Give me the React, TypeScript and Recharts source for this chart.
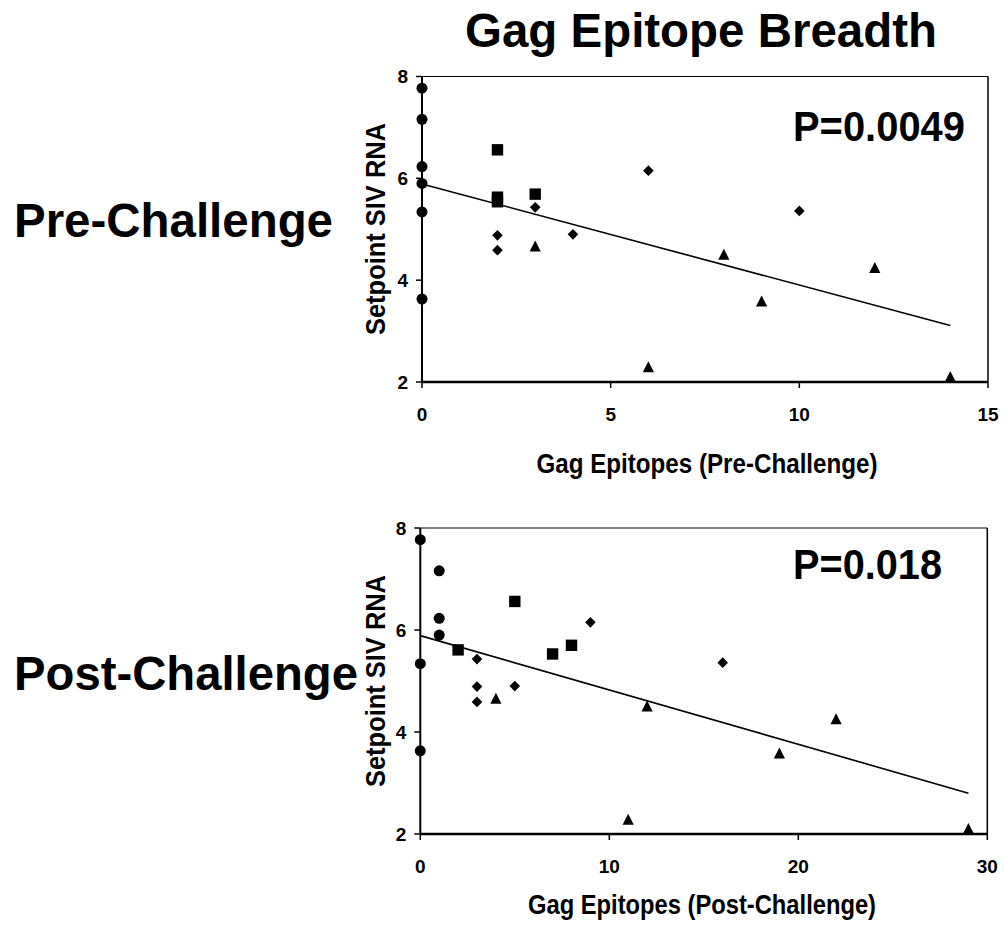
import React from 'react';
import { ScatterChart, Scatter, XAxis, YAxis, ReferenceLine } from 'recharts';

// Setpoint SIV RNA per animal, grouped by vaccine arm (same animals in both panels)
const circleRna = [7.77, 7.16, 6.23, 5.9, 5.34, 3.63];
const squareRna = [6.56, 5.63, 5.54, 5.69];
const diamondRna = [4.88, 4.59, 5.43, 4.9, 6.15, 5.36];
const triangleRna = [4.66, 2.29, 4.5, 3.58, 4.24, 2.1];

// Gag epitopes, pre-challenge
const circlePre = [0, 0, 0, 0, 0, 0];
const squarePre = [2, 2, 2, 3];
const diamondPre = [2, 2, 3, 4, 6, 10];
const trianglePre = [3, 6, 8, 9, 12, 14];

// Gag epitopes, post-challenge
const circlePost = [0, 1, 1, 1, 0, 0];
const squarePost = [5, 2, 7, 8];
const diamondPost = [3, 3, 3, 5, 16, 9];
const trianglePost = [4, 11, 12, 19, 22, 29];
const diamondRnaPost = [5.43, 4.89, 4.59, 4.9, 5.36, 6.15];
const squareRnaPost = [6.56, 5.61, 5.53, 5.7];

// regression line end points
const fitPre = [{ x: 0, y: 5.89 }, { x: 14, y: 3.11 }];
const fitPost = [{ x: 0, y: 5.89 }, { x: 29, y: 2.8 }];

const yTicks = [2, 4, 6, 8];
const xTicksPre = [0, 5, 10, 15];
const xTicksPost = [0, 10, 20, 30];

const pts = (xs: number[], ys: number[]) => xs.map((x, i) => ({ x, y: ys[i] }));

const FONT = '"Liberation Sans", Arial, sans-serif';

const Dot = (p: any) => <circle cx={p.cx} cy={p.cy} r={5.5} fill="#000" />;
const Square = (p: any) => <rect x={p.cx - 5.7} y={p.cy - 5.7} width={11.4} height={11.4} fill="#000" />;
const Diamond = (p: any) => (
  <polygon points={`${p.cx},${p.cy - 5.4} ${p.cx + 5.3},${p.cy} ${p.cx},${p.cy + 5.4} ${p.cx - 5.3},${p.cy}`} fill="#000" />
);
const Triangle = (p: any) => (
  <polygon points={`${p.cx},${p.cy - 6} ${p.cx + 5.6},${p.cy + 5} ${p.cx - 5.6},${p.cy + 5}`} fill="#000" />
);

const tickStyle = { fontSize: 19, fontWeight: 'bold', fill: '#000', fontFamily: FONT };

interface PanelProps {
  top: number;
  height: number;
  margin: { top: number; right: number; bottom: number; left: number };
  xMax: number;
  xTicks: number[];
  series: { x: number; y: number }[][];
  fit: { x: number; y: number }[];
}

const Panel: React.FC<PanelProps> = ({ top, height, margin, xMax, xTicks, series, fit }) => (
  <div style={{ position: 'absolute', left: 0, top }}>
    <ScatterChart width={1004} height={height} margin={margin}>
      <XAxis
        type="number"
        dataKey="x"
        domain={[0, xMax]}
        ticks={xTicks}
        interval={0}
        height={30}
        tickSize={6}
        tickMargin={20}
        tick={tickStyle}
        axisLine={{ stroke: '#000', strokeWidth: 2.5 }}
        tickLine={{ stroke: '#000', strokeWidth: 1.5 }}
      />
      <YAxis
        type="number"
        dataKey="y"
        domain={[2, 8]}
        ticks={yTicks}
        interval={0}
        width={60}
        tickSize={6}
        tickMargin={8}
        tick={tickStyle}
        axisLine={{ stroke: '#000', strokeWidth: 2 }}
        tickLine={{ stroke: '#000', strokeWidth: 1.5 }}
      />
      <ReferenceLine y={8} stroke="#000" strokeWidth={1.2} />
      <ReferenceLine x={xMax} stroke="#000" strokeWidth={1.5} />
      <ReferenceLine segment={fit} stroke="#000" strokeWidth={1.6} />
      <Scatter data={series[0]} shape={Dot} isAnimationActive={false} />
      <Scatter data={series[1]} shape={Square} isAnimationActive={false} />
      <Scatter data={series[2]} shape={Diamond} isAnimationActive={false} />
      <Scatter data={series[3]} shape={Triangle} isAnimationActive={false} />
    </ScatterChart>
  </div>
);

export default function App() {
  return (
    <div style={{ position: 'absolute', left: 0, top: 0, width: 1004, height: 926, background: '#fff', fontFamily: FONT }}>
      <Panel
        top={0}
        height={480}
        margin={{ top: 76.5, right: 16, bottom: 68, left: 362 }}
        xMax={15}
        xTicks={xTicksPre}
        series={[
          pts(circlePre, circleRna),
          pts(squarePre, squareRna),
          pts(diamondPre, diamondRna),
          pts(trianglePre, triangleRna),
        ]}
        fit={fitPre}
      />
      <Panel
        top={450}
        height={476}
        margin={{ top: 78, right: 16.7, bottom: 62, left: 360.3 }}
        xMax={30}
        xTicks={xTicksPost}
        series={[
          pts(circlePost, circleRna),
          pts(squarePost, squareRnaPost),
          pts(diamondPost, diamondRnaPost),
          pts(trianglePost, [4.65, 2.28, 4.5, 3.58, 4.25, 2.1]),
        ]}
        fit={fitPost}
      />

      {/* titles and axis captions */}
      <svg width={1004} height={926} style={{ position: 'absolute', left: 0, top: 0, pointerEvents: 'none' }}>
        <g fontFamily={FONT} fontWeight="bold" fill="#000">
          <text x={701} y={47} fontSize={48} textAnchor="middle" textLength={472} lengthAdjust="spacingAndGlyphs">
            Gag Epitope Breadth
          </text>
          <text x={14} y={237} fontSize={48} textLength={319} lengthAdjust="spacingAndGlyphs">Pre-Challenge</text>
          <text x={14} y={690} fontSize={48} textLength={344} lengthAdjust="spacingAndGlyphs">Post-Challenge</text>

          <text x={385} y={229} fontSize={28} textAnchor="middle" transform="rotate(-90 385 229)" textLength={212} lengthAdjust="spacingAndGlyphs">
            Setpoint SIV RNA
          </text>
          <text x={385} y={681} fontSize={28} textAnchor="middle" transform="rotate(-90 385 681)" textLength={212} lengthAdjust="spacingAndGlyphs">
            Setpoint SIV RNA
          </text>

          <text x={707} y={473} fontSize={28} textAnchor="middle" textLength={341} lengthAdjust="spacingAndGlyphs">
            Gag Epitopes (Pre-Challenge)
          </text>
          <text x={702} y={914} fontSize={28} textAnchor="middle" textLength={348} lengthAdjust="spacingAndGlyphs">
            Gag Epitopes (Post-Challenge)
          </text>

          <text x={793} y={141} fontSize={43} textLength={172} lengthAdjust="spacingAndGlyphs">P=0.0049</text>
          <text x={793} y={579} fontSize={43} textLength={149} lengthAdjust="spacingAndGlyphs">P=0.018</text>
        </g>
      </svg>
    </div>
  );
}
